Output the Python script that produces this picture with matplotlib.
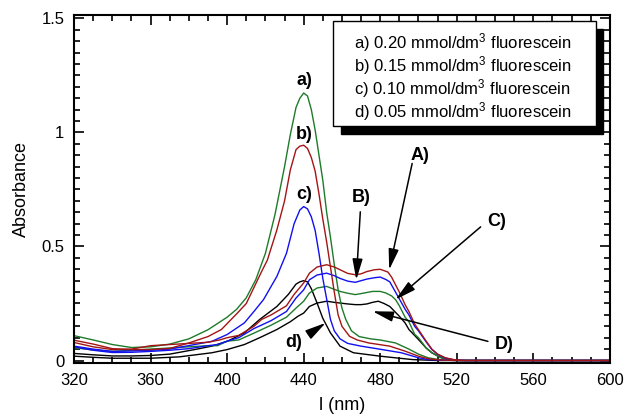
import numpy as np
import matplotlib
matplotlib.use("Agg")
import matplotlib.pyplot as plt
from matplotlib.patches import Rectangle
from matplotlib.ticker import MultipleLocator, FuncFormatter

plt.rcParams['font.family'] = ['Liberation Sans', 'DejaVu Sans']
plt.rcParams['mathtext.default'] = 'regular'

# lowercase curves (sharp peak near 440 nm)
wl_a = [320, 330, 340, 350, 360, 370, 380, 390, 400, 405, 410, 415, 420, 425, 430, 433, 436, 438, 440,
        442, 444, 446, 448, 450, 452, 454, 456, 458, 460, 462, 465, 469, 475, 480, 488, 495, 500, 505, 510, 515, 520, 600]
abs_a = [0.109, 0.09, 0.07, 0.057, 0.06, 0.072, 0.095, 0.135, 0.19, 0.225, 0.275, 0.355, 0.47, 0.64, 0.85, 0.99, 1.11, 1.15, 1.173,
         1.16, 1.10, 1.01, 0.90, 0.79, 0.65, 0.54, 0.42, 0.31, 0.23, 0.18, 0.13, 0.105, 0.095, 0.09, 0.077, 0.05, 0.028, 0.012, 0.005, 0.002, 0.0, 0.0]

wl_b = [320, 330, 340, 350, 360, 370, 380, 390, 397, 405, 410, 414, 418, 421, 426, 430, 433, 436, 438, 440,
        442, 444, 446, 448, 450, 452, 454, 456, 458, 460, 464, 468, 474, 485, 493, 500, 505, 510, 520, 600]
abs_b = [0.089, 0.072, 0.052, 0.048, 0.048, 0.053, 0.077, 0.105, 0.136, 0.205, 0.25, 0.32, 0.39, 0.44, 0.573, 0.70, 0.835, 0.925, 0.94, 0.944,
         0.93, 0.89, 0.83, 0.73, 0.62, 0.52, 0.41, 0.30, 0.20, 0.15, 0.106, 0.09, 0.077, 0.063, 0.041, 0.019, 0.008, 0.003, 0.0, 0.0]

wl_c = [320, 330, 340, 350, 360, 370, 383, 392, 400, 409, 414, 419, 426, 431, 435, 438, 440,
        442, 444, 446, 448, 450, 452, 454, 456, 459, 463, 470, 481, 491, 500, 505, 520, 600]
abs_c = [0.063, 0.05, 0.04, 0.042, 0.045, 0.05, 0.07, 0.084, 0.114, 0.165, 0.215, 0.267, 0.369, 0.47, 0.60, 0.66, 0.675,
         0.665, 0.63, 0.57, 0.47, 0.36, 0.27, 0.18, 0.13, 0.095, 0.075, 0.063, 0.048, 0.034, 0.012, 0.004, 0.0, 0.0]

wl_d = [320, 330, 340, 350, 360, 370, 383, 392, 400, 409, 417, 426, 432, 436, 438, 440, 442, 444, 447, 450,
        454, 459, 466, 480, 490, 497, 510, 600]
abs_d = [0.031, 0.025, 0.02, 0.02, 0.022, 0.028, 0.048, 0.063, 0.084, 0.121, 0.18, 0.237, 0.29, 0.335, 0.345, 0.35, 0.345, 0.315, 0.252, 0.185,
         0.121, 0.063, 0.034, 0.019, 0.01, 0.004, 0.0, 0.0]

# uppercase curves (broad double band)
wl_A = [320, 330, 340, 350, 360, 370, 380, 390, 396, 400, 406, 414, 418, 423, 431, 435, 440, 443, 447, 452, 456, 459, 463, 467,
        470, 473, 477, 480, 484, 486, 488, 490, 493, 495, 498, 500, 504, 507, 510, 514, 519, 525, 600]
abs_A = [0.079, 0.06, 0.048, 0.05, 0.065, 0.07, 0.075, 0.08, 0.09, 0.10, 0.11, 0.15, 0.18, 0.20, 0.24, 0.29, 0.34, 0.383, 0.41, 0.42, 0.41, 0.398, 0.382, 0.376,
         0.38, 0.39, 0.398, 0.40, 0.388, 0.365, 0.332, 0.30, 0.245, 0.215, 0.16, 0.135, 0.085, 0.05, 0.028, 0.012, 0.003, 0.0, 0.0]

wl_B = [320, 330, 340, 350, 360, 370, 380, 390, 395, 400, 406, 414, 423, 431, 436, 440, 443, 447, 452, 456, 459, 463, 467,
        470, 473, 477, 480, 483, 485, 488, 490, 493, 495, 498, 500, 504, 507, 510, 514, 519, 525, 600]
abs_B = [0.06, 0.045, 0.035, 0.036, 0.04, 0.045, 0.052, 0.065, 0.07, 0.085, 0.10, 0.14, 0.175, 0.215, 0.274, 0.31, 0.354, 0.375, 0.383, 0.372, 0.36, 0.348, 0.343,
         0.35, 0.357, 0.363, 0.366, 0.355, 0.345, 0.30, 0.27, 0.225, 0.20, 0.15, 0.13, 0.082, 0.048, 0.027, 0.011, 0.002, 0.0, 0.0]

wl_C = [320, 330, 340, 350, 360, 370, 380, 390, 395, 400, 406, 414, 423, 431, 436, 440, 443, 447, 452, 456, 459, 463, 467,
        471, 476, 480, 483, 486, 488, 490, 493, 495, 498, 500, 504, 507, 510, 512, 517, 522, 600]
abs_C = [0.056, 0.046, 0.04, 0.045, 0.05, 0.055, 0.06, 0.065, 0.065, 0.085, 0.09, 0.12, 0.155, 0.19, 0.23, 0.26, 0.296, 0.318, 0.325, 0.312, 0.303, 0.295, 0.289,
         0.295, 0.303, 0.303, 0.296, 0.283, 0.267, 0.24, 0.19, 0.17, 0.115, 0.10, 0.055, 0.034, 0.02, 0.012, 0.003, 0.0, 0.0]

wl_D = [320, 330, 340, 350, 360, 375, 392, 400, 409, 417, 426, 433, 437, 440, 443, 447, 452, 456, 459, 463, 467,
        470, 473, 476, 479, 482, 485, 487, 490, 493, 495, 500, 504, 507, 510, 512, 517, 522, 600]
abs_D = [0.019, 0.014, 0.01, 0.01, 0.01, 0.016, 0.034, 0.048, 0.07, 0.10, 0.136, 0.17, 0.194, 0.208, 0.237, 0.252, 0.26, 0.255, 0.252, 0.248, 0.245,
         0.245, 0.248, 0.255, 0.26, 0.25, 0.237, 0.22, 0.194, 0.165, 0.136, 0.092, 0.055, 0.034, 0.02, 0.012, 0.003, 0.0, 0.0]

legend_lines = ["a) 0.20 mmol/dm$^3$ fluorescein",
                "b) 0.15 mmol/dm$^3$ fluorescein",
                "c) 0.10 mmol/dm$^3$ fluorescein",
                "d) 0.05 mmol/dm$^3$ fluorescein"]

green = '#1f7a2a'
red = '#a31515'
blue = '#1010f0'
black = '#000000'

fig = plt.figure(figsize=(6.28, 4.17), dpi=100)
ax = fig.add_axes([0.118, 0.130, 0.853, 0.834])

ax.plot(wl_D, abs_D, color=black, lw=1)
ax.plot(wl_d, abs_d, color=black, lw=1)
ax.plot(wl_C, abs_C, color=green, lw=1)
ax.plot(wl_a, abs_a, color=green, lw=1)
ax.plot(wl_B, abs_B, color=blue, lw=1)
ax.plot(wl_c, abs_c, color=blue, lw=1)
ax.plot(wl_A, abs_A, color=red, lw=1)
ax.plot(wl_b, abs_b, color=red, lw=1)

ax.set_xlim(320, 600)
ax.set_ylim(-0.01, 1.515)
ax.xaxis.set_major_locator(MultipleLocator(40))
ax.xaxis.set_minor_locator(MultipleLocator(10))
ax.yaxis.set_major_locator(MultipleLocator(0.5))
ax.yaxis.set_minor_locator(MultipleLocator(0.05))
ax.yaxis.set_major_formatter(FuncFormatter(lambda v, p: '%g' % v))
ax.tick_params(which='both', direction='in', top=True, right=True, labelsize=12, width=1.2)
ax.tick_params(which='major', length=7, pad=7)
ax.tick_params(which='minor', length=4)
for s in ax.spines.values():
    s.set_linewidth(1.5)

ax.set_xlabel('l (nm)', fontsize=13, labelpad=7)
ax.set_ylabel('Absorbance', fontsize=13, labelpad=8)

# curve labels
lab = dict(fontsize=13, fontweight='bold', ha='center', va='center')
ax.text(440.5, 1.23, 'a)', **lab)
ax.text(440.5, 0.99, 'b)', **lab)
ax.text(440.5, 0.73, 'c)', **lab)
ax.text(435, 0.08, 'd)', **lab)
ax.text(501, 0.90, 'A)', **lab)
ax.text(470, 0.713, 'B)', **lab)
ax.text(541, 0.609, 'C)', **lab)
ax.text(545, 0.07, 'D)', **lab)

arr = dict(arrowstyle='-|>,head_length=0.9,head_width=0.22', color='black', lw=1.1,
           mutation_scale=14, shrinkA=0, shrinkB=0)
ax.annotate('', xy=(451.5, 0.165), xytext=(442.5, 0.114), arrowprops=arr)
ax.annotate('', xy=(484.7, 0.398), xytext=(496.7, 0.864), arrowprops=arr)
ax.annotate('', xy=(467.5, 0.354), xytext=(469.6, 0.652), arrowprops=arr)
ax.annotate('', xy=(488, 0.267), xytext=(532.5, 0.586), arrowprops=arr)
ax.annotate('', xy=(476, 0.216), xytext=(536.3, 0.084), arrowprops=arr)

# legend box with drop shadow
bx, by, bw, bh = 0.484, 0.681, 0.49, 0.302
ax.add_patch(Rectangle((bx + 0.014, by - 0.022), bw, bh, transform=ax.transAxes,
                       facecolor='black', edgecolor='black', zorder=5, clip_on=False))
ax.add_patch(Rectangle((bx, by), bw, bh, transform=ax.transAxes,
                       facecolor='white', edgecolor='black', lw=1, zorder=6, clip_on=False))
for i, t in enumerate(legend_lines):
    ax.text(0.523, 0.92 - i * 0.066, t, transform=ax.transAxes, fontsize=12,
            ha='left', va='center', zorder=7)

fig.savefig('out.png', dpi=100)
